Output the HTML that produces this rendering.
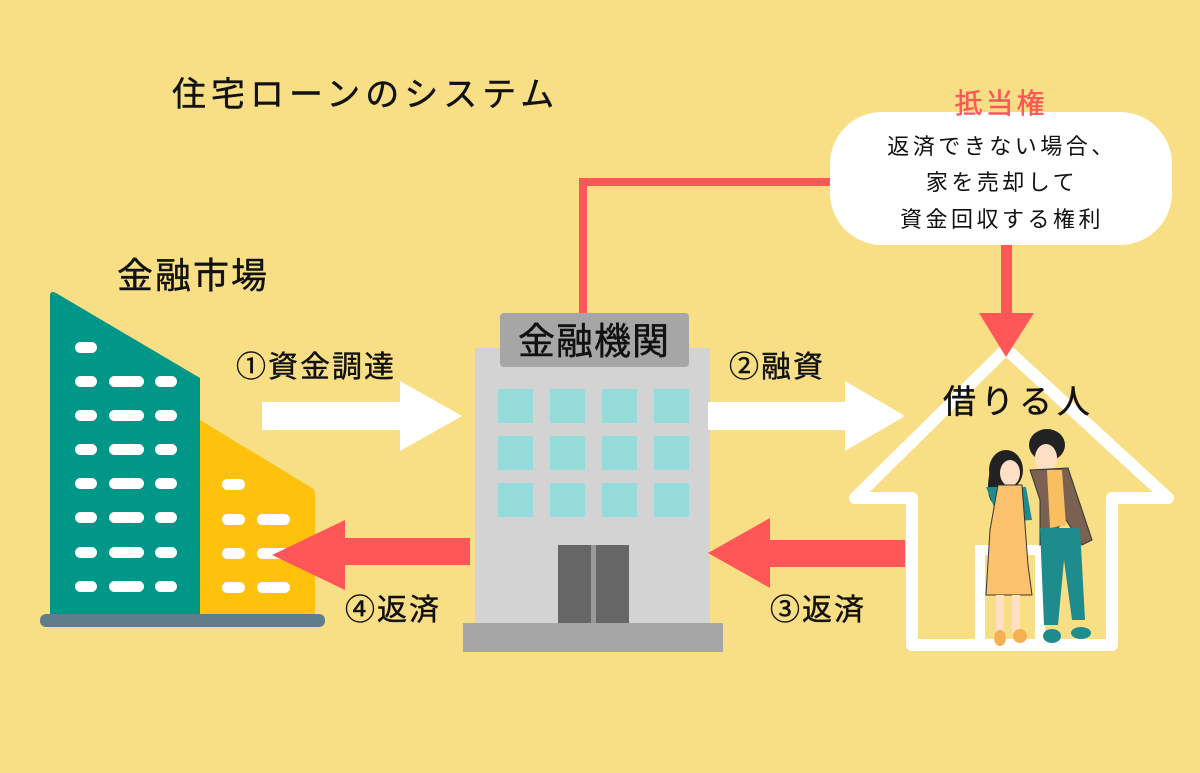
<!DOCTYPE html>
<html><head><meta charset="utf-8"><style>
body{margin:0;width:1200px;height:768px;overflow:hidden;background:#F8DF85;}
svg text{font-family:"Liberation Sans","Noto Sans CJK JP",sans-serif;}
</style></head><body>
<svg width="1200" height="768" viewBox="0 0 1200 768" xmlns="http://www.w3.org/2000/svg">
<rect width="1200" height="768" fill="#F8DF85"/>
<text x="172" y="106" font-size="34" letter-spacing="5" fill="#111" stroke="#111" stroke-width="0.4">住宅ローンのシステム</text>
<text x="117" y="288" font-size="36" letter-spacing="2" fill="#111" stroke="#111" stroke-width="0.4">金融市場</text>

<!-- left buildings -->
<path d="M50,296 Q50,290 56,293 L200,378 L200,615 L50,615 Z" fill="#009688"/>
<path d="M200,420 L312,488 Q315,490 315,495 L315,615 L200,615 Z" fill="#FEC20C"/>
<rect x="40" y="614" width="285" height="13" rx="6" fill="#607D8B"/>
<g fill="#fff">
<rect x="75" y="342" width="22" height="11" rx="5.5"/>
<g id="row"><rect x="75" y="376" width="22" height="11" rx="5.5"/><rect x="109" y="376" width="35" height="11" rx="5.5"/><rect x="155" y="376" width="22" height="11" rx="5.5"/></g>
<use href="#row" y="34"/><use href="#row" y="68"/><use href="#row" y="102"/><use href="#row" y="136"/><use href="#row" y="171"/><use href="#row" y="205"/>
<rect x="222" y="479" width="23" height="11" rx="5.5"/>
<g id="yrow"><rect x="222" y="514" width="23" height="11" rx="5.5"/><rect x="257" y="514" width="33" height="11" rx="5.5"/></g>
<use href="#yrow" y="34"/><use href="#yrow" y="68"/>
</g>

<!-- center building -->
<rect x="475" y="348" width="235" height="277" fill="#D3D3D3"/>
<rect x="500" y="313" width="189" height="54" rx="4" fill="#A6A6A6"/>
<text x="594" y="354" font-size="37" letter-spacing="1" fill="#111" stroke="#111" stroke-width="0.5" text-anchor="middle">金融機関</text>
<g fill="#95DBDA">
<rect x="498" y="389" width="35" height="34"/><rect x="550" y="389" width="35" height="34"/><rect x="602" y="389" width="35" height="34"/><rect x="654" y="389" width="35" height="34"/>
<rect x="498" y="436" width="35" height="34"/><rect x="550" y="436" width="35" height="34"/><rect x="602" y="436" width="35" height="34"/><rect x="654" y="436" width="35" height="34"/>
<rect x="498" y="483" width="35" height="34"/><rect x="550" y="483" width="35" height="34"/><rect x="602" y="483" width="35" height="34"/><rect x="654" y="483" width="35" height="34"/>
</g>
<rect x="558" y="545" width="71" height="79" fill="#666"/>
<rect x="591" y="545" width="5" height="79" fill="#999"/>
<rect x="463" y="623" width="260" height="29" fill="#A6A6A6"/>

<!-- arrows -->
<polygon points="262,402 400,402 400,381 462,416 400,451 400,430 262,430" fill="#fff"/>
<polygon points="708,402 845,402 845,381 905,416 845,451 845,430 708,430" fill="#fff"/>
<polygon points="470,538 345,538 345,520 272,555 345,590 345,565 470,565" fill="#FF5757"/>
<polygon points="905,540 770,540 770,518 708,553 770,588 770,567 905,567" fill="#FF5757"/>
<g font-size="30" letter-spacing="2" fill="#111" stroke="#111" stroke-width="0.4">
<text x="236" y="377">①資金調達</text>
<text x="729" y="377">②融資</text>
<text x="345" y="620">④返済</text>
<text x="770" y="620">③返済</text>
</g>

<!-- red connector -->
<polyline points="583,313 583,182 832,182" fill="none" stroke="#FF5757" stroke-width="8"/>
<rect x="830" y="112" width="342" height="133" rx="52" fill="#fff"/>
<text x="1001" y="113" font-size="28" letter-spacing="3" fill="#FF5757" stroke="#FF5757" stroke-width="0.4" text-anchor="middle">抵当権</text>
<g font-size="22" letter-spacing="3.5" fill="#111" text-anchor="middle">
<text x="1002" y="154">返済できない場合、</text>
<text x="1002" y="190">家を売却して</text>
<text x="1002" y="227">資金回収する権利</text>
</g>
<rect x="1001" y="245" width="11" height="72" fill="#FF5757"/>

<!-- house -->
<path d="M912,645 L912,498 L855,498 L1006,349 L1168,498 L1112,498 L1112,645 Z" fill="none" stroke="#fff" stroke-width="12" stroke-linejoin="round"/>
<path d="M980,645 L980,550 L1040,550 L1040,645" fill="none" stroke="#fff" stroke-width="10"/>
<polygon points="979,313 1034,313 1006,357" fill="#FF5757"/>
<text x="1019" y="413" font-size="33" letter-spacing="5" fill="#111" stroke="#111" stroke-width="0.4" text-anchor="middle">借りる人</text>

<!-- couple -->
<ellipse cx="1006" cy="470" rx="17" ry="20" fill="#222"/>
<path d="M990,470 Q984,500 996,505 L1000,475 Z" fill="#222"/>
<ellipse cx="1010" cy="473" rx="10" ry="13" fill="#FFE0C4"/>
<path d="M986,487 L1026,487 L1032,520 L1000,522 Z" fill="#1E8C8C"/>
<path d="M998,485 L1022,485 L1028,565 L1032,595 L986,595 L990,530 Z" fill="#FBC16D" stroke="#333" stroke-width="1"/>
<rect x="996" y="595" width="8" height="40" fill="#FFE0C4"/><rect x="1012" y="595" width="8" height="38" fill="#FFE0C4"/>
<ellipse cx="1000" cy="638" rx="6" ry="8" fill="#F6B053"/><ellipse cx="1020" cy="636" rx="7" ry="7" fill="#F6B053"/>
<ellipse cx="1047" cy="445" rx="18" ry="16" fill="#222"/>
<ellipse cx="1046" cy="458" rx="11" ry="14" fill="#FFE0C4"/>
<path d="M1030,470 L1068,468 L1092,540 L1082,545 L1066,520 L1045,540 L1040,545 L1040,500 Z" fill="#7A6151" stroke="#333" stroke-width="1"/>
<path d="M1047,470 L1062,470 L1066,525 L1050,528 Z" fill="#F8BE5F"/>
<path d="M1040,528 L1080,528 L1085,620 L1072,620 L1064,560 L1058,625 L1044,625 Z" fill="#1E8C8C"/>
<ellipse cx="1052" cy="636" rx="9" ry="7" fill="#1E8C8C"/><ellipse cx="1081" cy="633" rx="10" ry="6" fill="#1E8C8C"/>
</svg>
</body></html>
